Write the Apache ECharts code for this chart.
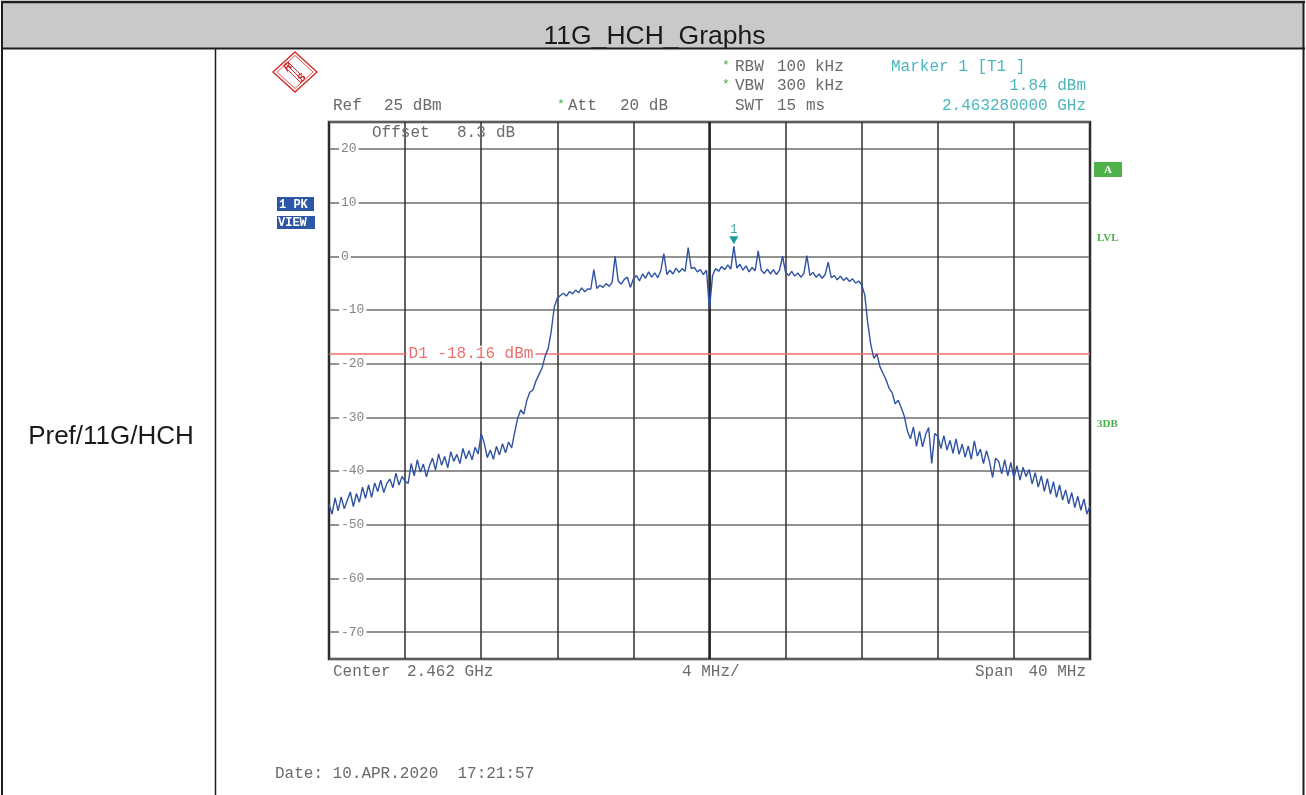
<!DOCTYPE html>
<html>
<head>
<meta charset="utf-8">
<script src="https://cdn.jsdelivr.net/npm/echarts@6/dist/echarts.min.js"></script>
<style>
  html, body { margin: 0; padding: 0; background: #fff; }
  #chart { width: 1306px; height: 795px; }
</style>
</head>
<body>
<div id="chart"></div>
<script>
// Analyzer settings
const CENTER_MHZ = 2462;
const SPAN_MHZ = 40;
const DIV_MHZ = 4;
const REF_DBM = 25;
const BOTTOM_DBM = -75;
const OFFSET_DB = 8.3;
const D1_DBM = -18.16;

// Marker 1 (peak), offset from centre in MHz
const MARKER_OFFSET_MHZ = 1.28;
const MARKER_DBM = 1.84;

// Max-peak trace, one level per sweep point (251 points over the span)
const LEVELS_DBM = [
  -46.2, -48.0, -45.0, -47.4, -44.8, -47.0, -45.5, -43.9, -46.6, -44.2,
  -45.8, -43.0, -45.1, -42.6, -44.9, -42.2, -43.8, -41.7, -44.0, -42.3,
  -41.5, -43.1, -40.4, -42.6, -41.0, -41.9, -42.3, -38.6, -40.9, -37.9,
  -40.2, -38.7, -41.1, -39.0, -37.6, -39.8, -36.8, -38.9, -37.3, -39.4,
  -36.4, -38.2, -36.9, -38.6, -35.8, -37.7, -36.2, -37.9, -35.6, -36.8,
  -33.0, -34.8, -37.5, -36.1, -37.8, -35.4, -37.0, -34.9, -36.6, -34.6,
  -35.7, -32.8, -30.1, -28.6, -29.4, -26.8, -25.3, -24.9, -23.2, -22.0,
  -20.8, -18.6, -17.2, -14.0, -9.5, -7.8, -7.3, -6.9, -7.4, -6.6,
  -7.0, -6.3, -6.8, -5.9, -6.6, -6.1, -6.1, -2.5, -6.0, -5.4,
  -5.8, -5.1, -5.6, -4.9, 0.0, -4.6, -5.2, -4.3, -3.9, -5.8,
  -4.2, -3.6, -4.6, -3.3, -4.1, -2.9, -3.9, -3.1, -4.0, -2.7,
  0.5, -3.4, -2.6, -3.3, -2.2, -3.0, -2.3, -2.8, 1.6, -2.3,
  -2.1, -2.9, -2.5, -3.4, -2.6, -9.8, -3.6, -2.3, -2.8, -1.9,
  -2.5, -1.6, -2.4, 1.84, -2.2, -1.5, -2.6, -1.8, -2.9, -2.1,
  -2.7, 1.0, -2.6, -3.2, -2.4, -3.3, -2.5, -3.4, -2.6, 0.0,
  -3.0, -3.6, -2.8, -3.7, -3.1, -3.9, -3.2, 0.1, -3.6, -3.0,
  -3.9, -3.3, -4.1, -3.4, -1.1, -4.0, -3.6, -4.4, -3.7, -4.5,
  -4.0, -4.7, -4.2, -5.0, -4.6, -5.3, -7.2, -12.5, -16.5, -19.0,
  -18.2, -20.6, -21.8, -23.0, -24.6, -25.4, -27.5, -26.8, -28.2, -29.8,
  -32.5, -34.0, -31.8, -35.4, -32.6, -35.5, -33.2, -31.9, -38.6, -33.0,
  -33.5, -35.8, -33.4, -36.1, -34.3, -36.7, -34.0, -36.9, -35.0, -37.4,
  -35.3, -37.8, -34.4, -37.2, -35.9, -38.6, -36.2, -38.3, -41.2, -37.6,
  -38.2, -40.5, -37.9, -40.9, -38.4, -41.3, -39.0, -41.7, -39.3, -41.0,
  -39.7, -42.4, -40.3, -43.0, -40.9, -43.8, -41.4, -44.3, -42.0, -44.9,
  -42.6, -45.4, -43.5, -46.1, -44.0, -46.8, -44.7, -47.3, -45.2, -48.0, -46.5
];

// Frequency of each sweep point as an offset from the centre (MHz)
const STEP_MHZ = SPAN_MHZ / (LEVELS_DBM.length - 1);
const sweep = LEVELS_DBM.map((v, i) => [-SPAN_MHZ / 2 + i * STEP_MHZ, v]);

const MONO = '"Liberation Mono", "DejaVu Sans Mono", monospace';
const SANS = '"Liberation Sans", Arial, sans-serif';
const GRAY = '#6a6a6a';
const TEAL = '#4cb6bb';
const GREEN = '#45b045';
const RED = '#ee6f6f';
const TRACE = '#2f52a2';
const LOGO = '#d42a2a';

function txt(x, y, text, opt) {
  opt = opt || {};
  return {
    type: 'text', z: 100, silent: true,
    style: {
      x: x, y: y, text: text,
      fill: opt.fill || GRAY,
      font: opt.font || ('16px ' + MONO),
      textAlign: opt.align || 'left',
      textVerticalAlign: 'middle'
    }
  };
}
function line(x1, y1, x2, y2, w, c) {
  return { type: 'line', z: 90, silent: true,
    shape: { x1: x1, y1: y1, x2: x2, y2: y2 },
    style: { stroke: c || '#1e1e1e', lineWidth: w } };
}
function box(x, y, w, h, fill, z) {
  return { type: 'rect', z: z || 1, silent: true,
    shape: { x: x, y: y, width: w, height: h }, style: { fill: fill } };
}

const markerGHz = ((CENTER_MHZ + MARKER_OFFSET_MHZ) / 1000).toFixed(9);

const graphics = [
  // table frame
  box(2, 2, 1301, 46, '#c8c9cb', 1),
  line(1, 2, 1305, 2, 2.5),
  line(1, 48.5, 1305, 48.5, 2),
  line(2, 1, 2, 795, 2),
  line(1303.5, 1, 1303.5, 795, 2),
  line(215.5, 48, 215.5, 795, 1.5),
  txt(654.5, 36.5, '11G_HCH_Graphs', { font: '26.5px ' + SANS, fill: '#1a1a1a', align: 'center' }),
  txt(111, 437, 'Pref/11G/HCH', { font: '26px ' + SANS, fill: '#1a1a1a', align: 'center' }),

  // maker logo
  {
    type: 'group', x: 295, y: 72, z: 100, silent: true,
    children: [
      { type: 'polygon', shape: { points: [[0, -20], [22, 0], [0, 20], [-22, 0]] },
        style: { fill: 'none', stroke: LOGO, lineWidth: 1.4 } },
      { type: 'polygon', shape: { points: [[0, -16.5], [18, 0], [0, 16.5], [-18, 0]] },
        style: { fill: 'none', stroke: LOGO, lineWidth: 0.8 } },
      { type: 'line', shape: { x1: -7, y1: -10, x2: 10, y2: 7 }, style: { stroke: LOGO, lineWidth: 1 } },
      { type: 'line', shape: { x1: -9, y1: -8, x2: 8, y2: 9 }, style: { stroke: LOGO, lineWidth: 1 } },
      { type: 'line', shape: { x1: -11, y1: -6, x2: 6, y2: 11 }, style: { stroke: LOGO, lineWidth: 1 } },
      { type: 'text', x: -7, y: -5, rotation: Math.PI / 4,
        style: { text: 'R', fill: LOGO, font: 'bold italic 11px ' + SANS, textAlign: 'center', textVerticalAlign: 'middle' } },
      { type: 'text', x: 7, y: 6, rotation: Math.PI / 4,
        style: { text: 'S', fill: LOGO, font: 'bold italic 11px ' + SANS, textAlign: 'center', textVerticalAlign: 'middle' } }
    ]
  },

  // settings header
  txt(722, 66, '*', { fill: GREEN, font: '13px ' + MONO }),
  txt(735, 67, 'RBW'), txt(777, 67, '100'), txt(815, 67, 'kHz'),
  txt(722, 85, '*', { fill: GREEN, font: '13px ' + MONO }),
  txt(735, 86, 'VBW'), txt(777, 86, '300'), txt(815, 86, 'kHz'),
  txt(735, 106, 'SWT'), txt(777, 106, '15'), txt(806, 106, 'ms'),
  txt(333, 106, 'Ref'), txt(384, 106, REF_DBM + ' dBm'),
  txt(557, 105, '*', { fill: GREEN, font: '13px ' + MONO }),
  txt(568, 106, 'Att'), txt(620, 106, '20 dB'),
  txt(891, 67, 'Marker 1 [T1 ]', { fill: TEAL }),
  txt(1086, 86, MARKER_DBM.toFixed(2) + ' dBm', { fill: TEAL, align: 'right' }),
  txt(1086, 106, markerGHz + ' GHz', { fill: TEAL, align: 'right' }),
  txt(372, 133, 'Offset'), txt(457, 133, OFFSET_DB.toFixed(1)), txt(496, 133, 'dB'),

  // trace / mode badges
  box(277, 197, 37, 14, '#2d56a6', 99),
  txt(279, 204.5, '1 PK', { fill: '#fff', font: 'bold 12px ' + MONO }),
  box(277, 216, 38, 13, '#2d56a6', 99),
  txt(278, 222.5, 'VIEW', { fill: '#fff', font: 'bold 12px ' + MONO }),
  box(1094, 162, 28, 15, '#4db24a', 99),
  txt(1108, 170, 'A', { fill: '#fff', font: 'bold 11px "Liberation Serif", serif', align: 'center' }),
  txt(1097, 238, 'LVL', { fill: GREEN, font: 'bold 11px "Liberation Serif", serif' }),
  txt(1097, 424, '3DB', { fill: GREEN, font: 'bold 11px "Liberation Serif", serif' }),

  // footer
  txt(333, 672, 'Center'), txt(407, 672, (CENTER_MHZ / 1000).toFixed(3) + ' GHz'),
  txt(682, 672, DIV_MHZ + ' MHz/'),
  txt(975, 672, 'Span'), txt(1086, 672, SPAN_MHZ + ' MHz', { align: 'right' }),
  txt(275, 774, 'Date: 10.APR.2020  17:21:57')
];

const chart = echarts.init(document.getElementById('chart'));
chart.setOption({
  animation: false,
  backgroundColor: '#fff',
  graphic: { elements: graphics },
  grid: {
    left: 329, top: 122, width: 761, height: 537,
    show: true, borderColor: '#2a2a2a', borderWidth: 2.5, backgroundColor: '#fff'
  },
  xAxis: {
    type: 'value', min: -SPAN_MHZ / 2, max: SPAN_MHZ / 2, interval: DIV_MHZ,
    axisLine: { show: false }, axisTick: { show: false }, axisLabel: { show: false },
    splitLine: { show: true, lineStyle: { color: '#2e2e2e', width: 1.5 } }
  },
  yAxis: {
    type: 'value', min: BOTTOM_DBM, max: REF_DBM, splitNumber: 10,
    axisLine: { show: false }, axisTick: { show: false },
    axisLabel: {
      inside: true, margin: 10, showMinLabel: false, showMaxLabel: false,
      color: '#858585', fontFamily: MONO, fontSize: 13,
      backgroundColor: '#fff', padding: [0, 2, 0, 2]
    },
    splitLine: { show: true, lineStyle: { color: '#6e6e6e', width: 1.6 } }
  },
  series: [{
    type: 'line',
    data: sweep,
    symbol: 'none',
    lineStyle: { color: TRACE, width: 1.4 },
    z: 5,
    markLine: {
      silent: true, symbol: 'none', animation: false,
      data: [
        { xAxis: 0, lineStyle: { color: '#262626', width: 2.5, type: 'solid' }, label: { show: false } },
        { yAxis: D1_DBM, lineStyle: { color: RED, width: 1.5, type: 'solid' }, label: { show: false } }
      ]
    },
    markPoint: {
      silent: true, animation: false,
      data: [
        {
          coord: [MARKER_OFFSET_MHZ, MARKER_DBM],
          symbol: 'triangle', symbolRotate: 180, symbolSize: [9, 8], symbolOffset: [0, -6],
          itemStyle: { color: '#1c9c9c' },
          label: { show: true, position: 'top', distance: 1, formatter: '1',
                   color: '#3aa7a7', fontFamily: MONO, fontSize: 12 }
        },
        {
          coord: [-16, D1_DBM],
          symbol: 'circle', symbolSize: 1, itemStyle: { color: 'rgba(0,0,0,0)' },
          label: { show: true, position: 'right', distance: 1,
                   formatter: 'D1 ' + D1_DBM.toFixed(2) + ' dBm',
                   color: RED, fontFamily: MONO, fontSize: 16,
                   backgroundColor: '#fff', padding: [0, 2, 0, 2] }
        }
      ]
    }
  }]
});
</script>
</body>
</html>
